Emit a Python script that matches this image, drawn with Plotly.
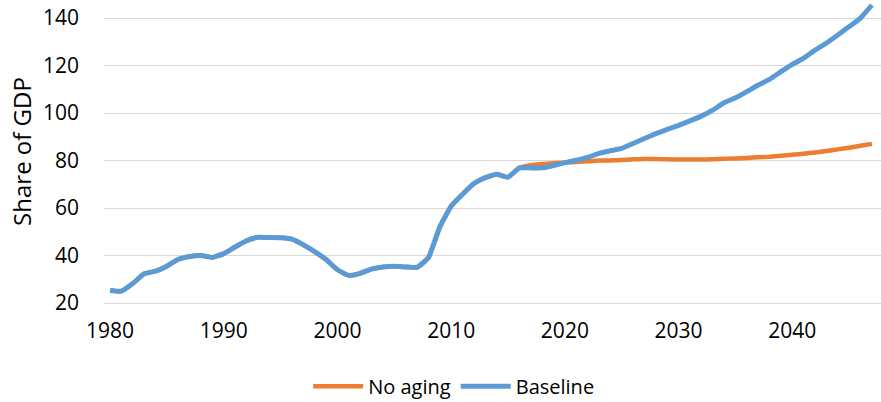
import plotly.graph_objects as go

years = list(range(1980, 2048))

baseline = [
    25.3, 25.0, 28.2, 32.3, 33.4, 35.5, 38.4, 39.6, 40.0, 39.2,  # 1980-1989
    40.8, 43.6, 46.2, 47.7, 47.6, 47.5, 46.9, 44.5, 41.6, 38.3,  # 1990-1999
    34.0, 31.6, 32.5, 34.3, 35.2, 35.5, 35.2, 35.0, 39.1, 52.0,  # 2000-2009
    60.8, 65.8, 70.3, 72.8, 74.2, 73.0, 76.9, 76.9, 76.9, 77.9,  # 2010-2019
    79.1, 80.1, 81.3, 83.0, 84.1, 85.1, 87.2, 89.3, 91.3, 93.1,  # 2020-2029
    94.8, 96.7, 98.7, 101.2, 104.3, 106.4, 109.0, 111.8, 114.2, 117.4,  # 2030-2039
    120.5, 123.1, 126.5, 129.5, 132.9, 136.4, 140.0, 145.5,  # 2040-2047
]

no_aging = baseline[:37] + [
    78.0, 78.5, 78.8,  # 2017-2019
    79.1, 79.4, 79.7, 80.0, 80.0, 80.2, 80.5, 80.6, 80.6, 80.5,  # 2020-2029
    80.4, 80.4, 80.4, 80.5, 80.7, 80.9, 81.1, 81.4, 81.6, 82.0,  # 2030-2039
    82.4, 82.9, 83.4, 84.0, 84.7, 85.4, 86.2, 87.0,  # 2040-2047
]

x_ticks = [1980, 1990, 2000, 2010, 2020, 2030, 2040]
y_ticks = [20, 40, 60, 80, 100, 120, 140]

FONT = "Open Sans"

fig = go.Figure()
fig.add_trace(go.Scatter(x=years, y=no_aging, name="No aging", mode="lines",
                         line=dict(color="#ED7D31", width=4.5, shape="spline", smoothing=0.4)))
fig.add_trace(go.Scatter(x=years, y=baseline, name="Baseline", mode="lines",
                         line=dict(color="#5B9BD5", width=5, shape="spline", smoothing=0.4)))

fig.update_layout(
    width=881, height=402,
    margin=dict(l=104, r=0, t=0, b=99, autoexpand=False),
    paper_bgcolor="white", plot_bgcolor="white",
    font=dict(family=FONT, size=21, color="#000000"),
    showlegend=True,
    legend=dict(orientation="h", x=0.45, xanchor="center", y=-0.275, yanchor="middle",
                font=dict(family=FONT, size=20, color="#000000"), itemwidth=50,
                traceorder="normal"),
    xaxis=dict(range=[1979.47, 2047.8], tickvals=x_ticks, ticktext=[str(v) for v in x_ticks],
               showgrid=False, zeroline=False, showline=True, linecolor="#D9D9D9", linewidth=1,
               ticks="", ticklabelstandoff=9, automargin=False, ticklabeloverflow="allow"),
    yaxis=dict(range=[20, 147.6], tickvals=y_ticks, showgrid=True, gridcolor="#D9D9D9", gridwidth=1,
               zeroline=False, showline=False, ticks="", ticklabelstandoff=24,
               automargin=False, ticklabeloverflow="allow",
               title=dict(text="Share of GDP", font=dict(family=FONT, size=24), standoff=4)),
)

fig.write_html("out.html",
               config={"displayModeBar": False},
               post_script="document.body.style.margin='0';document.body.style.overflow='hidden';")
